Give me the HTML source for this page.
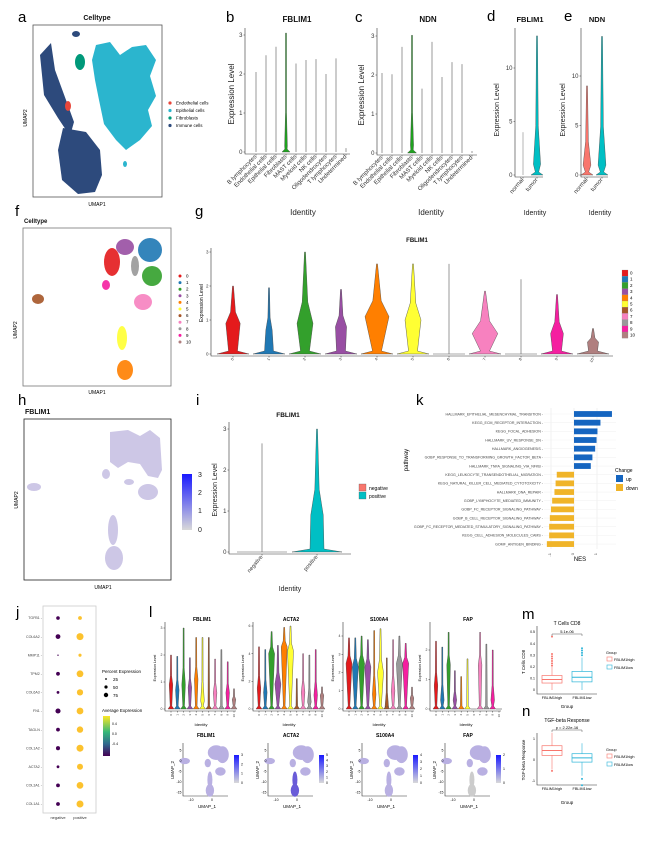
<!DOCTYPE html>
<html><head><meta charset="utf-8">
<style>
html,body{margin:0;padding:0;background:#fff;}
svg{display:block;font-family:"Liberation Sans",sans-serif;}
.pl{font-size:15px;fill:#000;}
.tt{font-weight:bold;fill:#111;}
.ax{stroke:#333;stroke-width:0.6;fill:none;}
.tk{font-size:5px;fill:#333;}
</style></head>
<body>
<svg id="fig" width="654" height="853" viewBox="0 0 654 853">
<rect width="654" height="853" fill="#fff"/>
<g>
<text class="pl" x="18" y="22">a</text>
<text class="pl" x="226" y="22">b</text>
<text class="pl" x="355" y="22">c</text>
<text class="pl" x="487" y="21">d</text>
<text class="pl" x="564" y="21">e</text>
<text class="pl" x="15" y="216">f</text>
<text class="pl" x="195" y="216">g</text>
<text class="pl" x="18" y="405">h</text>
<text class="pl" x="196" y="405">i</text>
<text class="pl" x="416" y="405">k</text>
<text class="pl" x="16" y="617">j</text>
<text class="pl" x="149" y="617">l</text>
<text class="pl" x="522" y="619">m</text>
<text class="pl" x="522" y="716">n</text>
</g>
<g>
<text class="tt" x="97" y="20" font-size="7" text-anchor="middle">Celltype</text>
<rect x="33" y="25" width="129" height="172" fill="none" stroke="#555" stroke-width="0.8"/>
<path d="M40,55 L51,43 L55,70 L66,100 L74,122 L70,136 L58,118 L44,95 Z" fill="#2D4A7C"/>
<path d="M63,128 L86,132 L100,150 L102,175 L95,192 L78,194 L62,180 L58,150 Z" fill="#2D4A7C"/>
<ellipse cx="76" cy="34" rx="4" ry="3" fill="#2D4A7C"/>
<path d="M96,45 L110,42 L120,55 L132,47 L146,45 L156,60 L150,76 L156,96 L148,110 L152,126 L140,140 L126,150 L116,140 L104,124 L99,100 L95,80 L92,60 Z" fill="#2BB5CE"/>
<ellipse cx="125" cy="164" rx="2" ry="3" fill="#2BB5CE"/>
<ellipse cx="80" cy="62" rx="5" ry="8" fill="#00997A"/>
<ellipse cx="68" cy="106" rx="3" ry="5" fill="#E8463A"/>
<text x="27" y="118" font-size="5" transform="rotate(-90 27 118)" text-anchor="middle">UMAP2</text>
<text x="97" y="206" font-size="5" text-anchor="middle">UMAP1</text>
<g font-size="4.5">
<circle cx="170" cy="103" r="1.6" fill="#E8463A"/><text x="176" y="104.5">Endothelial cells</text>
<circle cx="170" cy="110.5" r="1.6" fill="#2BB5CE"/><text x="176" y="112">Epithelial cells</text>
<circle cx="170" cy="118" r="1.6" fill="#00997A"/><text x="176" y="119.5">Fibroblasts</text>
<circle cx="170" cy="125.5" r="1.6" fill="#2D4A7C"/><text x="176" y="127">Immune cells</text>
</g>
</g>
<text class="tt" x="297" y="22" font-size="8" text-anchor="middle">FBLIM1</text>
<text class="tt" x="428" y="22" font-size="8" text-anchor="middle">NDN</text>
<text class="tt" x="530" y="22" font-size="7.5" text-anchor="middle">FBLIM1</text>
<text class="tt" x="597" y="22" font-size="7.5" text-anchor="middle">NDN</text>
<text x="234" y="94" font-size="8" transform="rotate(-90 234 94)" text-anchor="middle" fill="#222">Expression Level</text>
<text x="364" y="95" font-size="8" transform="rotate(-90 364 95)" text-anchor="middle" fill="#222">Expression Level</text>
<text x="499" y="110" font-size="7" transform="rotate(-90 499 110)" text-anchor="middle" fill="#222">Expression Level</text>
<text x="565" y="110" font-size="7" transform="rotate(-90 565 110)" text-anchor="middle" fill="#222">Expression Level</text>
<text x="303" y="215" font-size="8" text-anchor="middle" fill="#222">Identity</text>
<text x="431" y="215" font-size="8" text-anchor="middle" fill="#222">Identity</text>
<text x="535" y="215" font-size="7" text-anchor="middle" fill="#222">Identity</text>
<text x="600" y="215" font-size="7" text-anchor="middle" fill="#222">Identity</text>
<g>
<text class="tt" x="24" y="223" font-size="6">Celltype</text>
<rect x="23" y="228" width="148" height="158" fill="none" stroke="#777" stroke-width="0.8"/>
<g opacity="0.9">
<ellipse cx="112" cy="262" rx="8" ry="14" fill="#E41A1C"/>
<ellipse cx="125" cy="247" rx="9" ry="8" fill="#984EA3"/>
<ellipse cx="150" cy="250" rx="12" ry="12" fill="#1F78B4"/>
<ellipse cx="152" cy="276" rx="10" ry="10" fill="#33A02C"/>
<ellipse cx="135" cy="266" rx="4" ry="10" fill="#999"/>
<ellipse cx="143" cy="302" rx="9" ry="8" fill="#F781BF"/>
<ellipse cx="106" cy="285" rx="4" ry="5" fill="#F51FA0"/>
<ellipse cx="38" cy="299" rx="6" ry="5" fill="#A65628"/>
<ellipse cx="122" cy="338" rx="5" ry="12" fill="#FFFF33"/>
<ellipse cx="125" cy="370" rx="8" ry="10" fill="#FF7F00"/>
</g>
<text x="17" y="330" font-size="5" transform="rotate(-90 17 330)" text-anchor="middle">UMAP2</text>
<text x="97" y="394" font-size="5" text-anchor="middle">UMAP1</text>
<g id="fLegend" font-size="4.5"></g>
</g>
<text class="tt" x="417" y="242" font-size="6" text-anchor="middle">FBLIM1</text>
<text x="203" y="303" font-size="5" transform="rotate(-90 203 303)" text-anchor="middle">Expression Level</text>
<g id="gLegend" font-size="4.5"></g>
<g>
<text class="tt" x="25" y="414" font-size="7">FBLIM1</text>
<rect x="24" y="419" width="147" height="161" fill="none" stroke="#222" stroke-width="0.8"/>
<g fill="#cdc7e6">
<path d="M110,432 L128,430 L140,436 L150,430 L160,438 L162,470 L158,478 L148,476 L140,464 L128,462 L118,468 L110,462 Z"/>
<ellipse cx="34" cy="487" rx="7" ry="4"/>
<ellipse cx="106" cy="474" rx="4" ry="5"/>
<ellipse cx="148" cy="492" rx="10" ry="8"/>
<ellipse cx="129" cy="482" rx="5" ry="3"/>
<ellipse cx="113" cy="530" rx="5" ry="15"/>
<ellipse cx="114" cy="558" rx="9" ry="12"/>
</g>
<defs><linearGradient id="hGrad" x1="0" y1="1" x2="0" y2="0"><stop offset="0" stop-color="#d9d9d9"/><stop offset="1" stop-color="#1a1aff"/></linearGradient></defs>
<rect x="182" y="474" width="10" height="56" fill="url(#hGrad)"/>
<g font-size="7" fill="#222"><text x="198" y="477">3</text><text x="198" y="495">2</text><text x="198" y="513">1</text><text x="198" y="532">0</text></g>
<text x="18" y="500" font-size="5" transform="rotate(-90 18 500)" text-anchor="middle">UMAP2</text>
<text x="103" y="589" font-size="5" text-anchor="middle">UMAP1</text>
</g>
<text class="tt" x="288" y="417" font-size="6.5" text-anchor="middle">FBLIM1</text>
<text x="217" y="490" font-size="7" transform="rotate(-90 217 490)" text-anchor="middle" fill="#222">Expression Level</text>
<text x="290" y="591" font-size="7" text-anchor="middle" fill="#222">Identity</text>
<g font-size="5">
<rect x="359" y="484" width="7" height="7" fill="#F8766D" stroke="#555" stroke-width="0.3"/><text x="369" y="490">negative</text>
<rect x="359" y="492" width="7" height="7" fill="#00BFC4" stroke="#555" stroke-width="0.3"/><text x="369" y="498">positive</text>
</g>
<g id="kPanel">
<text x="408" y="460" font-size="6" transform="rotate(-90 408 460)" text-anchor="middle">pathway</text>
<text x="580" y="561" font-size="6" text-anchor="middle">NES</text>
<g font-size="5">
<text x="615" y="472">Change</text>
<rect x="616" y="475" width="7" height="7" fill="#1565C0"/><text x="626" y="481">up</text>
<rect x="616" y="484" width="7" height="7" fill="#F0B429"/><text x="626" y="490">down</text>
</g>
</g>
<g id="jPanel">
<rect x="43" y="606" width="53" height="207" fill="none" stroke="#ccc" stroke-width="0.8"/>
<g font-size="4" fill="#333"><text x="58" y="819" text-anchor="middle">negative</text><text x="80" y="819" text-anchor="middle">positive</text></g>
<g font-size="4.5">
<text x="102" y="673">Percent Expression</text>
<circle cx="106" cy="679" r="0.9"/><text x="113" y="681">25</text>
<circle cx="106" cy="687" r="1.6"/><text x="113" y="689">50</text>
<circle cx="106" cy="695" r="2.2"/><text x="113" y="697">75</text>
<text x="102" y="712">Average Expression</text>
<defs><linearGradient id="vir" x1="0" y1="1" x2="0" y2="0"><stop offset="0" stop-color="#440154"/><stop offset="0.3" stop-color="#31688e"/><stop offset="0.6" stop-color="#35b779"/><stop offset="1" stop-color="#fde725"/></linearGradient></defs>
<rect x="103" y="716" width="7" height="40" fill="url(#vir)"/>
<text x="112" y="725" font-size="3.5">0.4</text><text x="112" y="735" font-size="3.5">0.0</text><text x="112" y="745" font-size="3.5">-0.4</text>
</g>
</g>
<g id="lPanel"></g>
<g id="mPanel">
<text x="567" y="625" font-size="5" text-anchor="middle">T Cells CD8</text>
<text x="525" y="662" font-size="4.5" transform="rotate(-90 525 662)" text-anchor="middle">T Cells CD8</text>
<text x="567" y="708" font-size="4.5" text-anchor="middle">Group</text>
</g>
<g id="nPanel">
<text x="567" y="722" font-size="5" text-anchor="middle">TGF-beta Response</text>
<text x="525" y="760" font-size="4.5" transform="rotate(-90 525 760)" text-anchor="middle">TGF-beta Response</text>
<text x="567" y="804" font-size="4.5" text-anchor="middle">Group</text>
</g>
<g font-size="3.8">
<text x="606" y="654">Group</text>
<rect x="607" y="657" width="5" height="4" fill="none" stroke="#F8766D" stroke-width="0.6"/><text x="614" y="661">FBLIM1high</text>
<rect x="607" y="665" width="5" height="4" fill="none" stroke="#2DB5D8" stroke-width="0.6"/><text x="614" y="669">FBLIM1low</text>
<text x="606" y="751">Group</text>
<rect x="607" y="754" width="5" height="4" fill="none" stroke="#F8766D" stroke-width="0.6"/><text x="614" y="758">FBLIM1high</text>
<rect x="607" y="762" width="5" height="4" fill="none" stroke="#2DB5D8" stroke-width="0.6"/><text x="614" y="766">FBLIM1low</text>
</g>
</svg>
<script>
const bCats=['B lymphocytes','Endothelial cells','Epithelial cells','Fibroblasts','MAST cells','Myeloid cells','NK cells','Oligodendrocytes','T lymphocytes','Undetermined'];
const bMax=[2.05,2.48,2.7,3.05,2.27,2.36,2.38,2.0,2.4,0.1];
const bBody=[0,0,0,0.15,0,0,0,0,0,0];
const cMax=[2.05,2.02,2.72,3.02,1.65,2.85,1.95,2.33,2.28,0.05];
const cBody=[0,0,0,0.2,0,0,0,0,0,0];
const dGroups=['normal','tumor'];
const dMax=[4,13];
const dBody=[0,1];
const eMax=[9,14];
const eBody=[1,1];
const gClusters=['0','1','2','3','4','5','6','7','8','9','10'];
const gMax=[2.0,1.95,3.0,1.9,2.65,2.65,2.65,1.85,2.2,1.75,0.75];
const gBody=[0.9,0.7,0.9,0.8,1.1,1.0,0,0.6,0,0.6,0.35];
const gBodyW=[0.45,0.2,0.5,0.35,0.75,0.5,0,0.8,0,0.4,0.35];
const iGroups=['negative','positive'];
const iMax=[2.65,3.0];
const iBody=[0,0.9];
const lGenes=['FBLIM1','ACTA2','S100A4','FAP'];
const lMaxFBLIM1=[2.0,1.95,3.0,1.9,2.65,2.65,2.65,1.85,2.2,1.75,0.75];
const lBodyFBLIM1=[0.9,0.7,0.9,0.8,1.1,0.3,0,0.6,0,0.6,0.35];
const lMaxACTA2=[4.5,4.3,5.6,4.6,5.9,6.0,2.2,4.0,3.9,4.3,1.6];
const lBodyACTA2=[1.5,1.2,4.0,1.8,4.5,4.2,0,1.2,0.5,1.0,1.0];
const lMaxS100A4=[3.9,3.9,4.0,3.8,4.3,4.4,2.8,3.8,4.0,3.6,1.2];
const lBodyS100A4=[2.5,2.3,2.5,2.3,0.8,2.0,0.1,1.0,2.5,2.5,0.6];
const lMaxFAP=[2.3,2.1,2.6,1.3,1.1,1.7,0,2.6,2.2,2.0,0];
const lBodyFAP=[0.8,0.3,1.5,0.3,0,0,0,1.5,0,0.3,0];
const kPathways=['HALLMARK_EPITHELIAL_MESENCHYMAL_TRANSITION','KEGG_ECM_RECEPTOR_INTERACTION','KEGG_FOCAL_ADHESION','HALLMARK_UV_RESPONSE_DN','HALLMARK_ANGIOGENESIS','GOBP_RESPONSE_TO_TRANSFORMING_GROWTH_FACTOR_BETA','HALLMARK_TNFA_SIGNALING_VIA_NFKB','KEGG_LEUKOCYTE_TRANSENDOTHELIAL_MIGRATION','KEGG_NATURAL_KILLER_CELL_MEDIATED_CYTOTOXICITY','HALLMARK_DNA_REPAIR','GOBP_LYMPHOCYTE_MEDIATED_IMMUNITY','GOBP_FC_RECEPTOR_SIGNALING_PATHWAY','GOBP_B_CELL_RECEPTOR_SIGNALING_PATHWAY','GOBP_FC_RECEPTOR_MEDIATED_STIMULATORY_SIGNALING_PATHWAY','KEGG_CELL_ADHESION_MOLECULES_CAMS','GOMF_ANTIGEN_BINDING'];
const kNES=[1.65,1.15,1.02,0.98,0.92,0.8,0.73,-0.75,-0.8,-0.85,-0.95,-1.0,-1.05,-1.08,-1.08,-1.18];
const jGenes=['TGFB1','COL6A2','MMP11','TPM2','COL6A3','FN1','TAGLN','COL1A2','ACTA2','COL3A1','COL1A1'];
const jPctNeg=[20,35,3,22,12,40,22,25,12,22,22];
const jPctPos=[22,75,15,70,60,70,62,75,55,70,75];
const jAvgNeg=[-0.45,-0.45,-0.4,-0.45,-0.45,-0.45,-0.45,-0.45,-0.45,-0.45,-0.45];
const jAvgPos=[0.5,0.5,0.5,0.5,0.5,0.5,0.5,0.5,0.5,0.5,0.5];
const boxGroups=['FBLIM1high','FBLIM1low'];
const mStats=[[0,0.06,0.09,0.125,0.2],[0,0.07,0.11,0.16,0.28]];
const mOutHigh=[0.21,0.23,0.25,0.27,0.29,0.31,0.46];
const mOutLow=[0.3,0.32,0.34,0.36];
const nStats=[[-0.45,0.22,0.45,0.68,1.3],[-0.75,-0.1,0.1,0.3,0.8]];
const nOutHigh=[-0.52];
const nOutLow=[-0.9,-1.2];
const clusterColors=['#E41A1C','#1F78B4','#33A02C','#984EA3','#FF7F00','#FFFF33','#A65628','#F781BF','#999999','#F51FA0','#B07F7F'];

const NS='http://www.w3.org/2000/svg';
const svg=document.getElementById('fig');
function mk(tag,attrs,parent){const e=document.createElementNS(NS,tag);for(const k in attrs)e.setAttribute(k,attrs[k]);(parent||svg).appendChild(e);return e;}
function txt(s,attrs,parent){const e=mk('text',attrs,parent);e.textContent=s;return e;}

function violinPath(cx,y0,yTop,yBody,hw,bw){
  if(hw<=0){return `M${cx},${y0} L${cx},${yTop}`;}
  const neck=Math.max(0.5,hw*0.28);
  const yn=y0-Math.min(3,(y0-yTop)*0.15);
  const pts=[[hw,y0],[neck,yn]];
  if(bw>0){pts.push([bw,yBody]);pts.push([Math.max(0.5,bw*0.35),yBody-(yBody-yTop)*0.3]);}
  pts.push([0.5,yTop]);
  let d=`M${cx-pts[0][0]},${pts[0][1]}`;
  for(let i=1;i<pts.length;i++)d+=` L${cx-pts[i][0]},${pts[i][1]}`;
  for(let i=pts.length-1;i>=0;i--)d+=` L${cx+pts[i][0]},${pts[i][1]}`;
  return d+' Z';
}

function violinPanel(o){
  const g=mk('g',{});
  
  
  const yS=v=>o.y0-(v/o.vmax)*(o.y0-o.yTop);
  const xS=i=>o.firstX+i*o.step;
  const ax=mk('path',{d:`M${o.axX},${o.axTop} L${o.axX},${o.y0+2} L${o.axEnd},${o.y0+2}`,class:'ax'},g);
  
  
  o.ticks.forEach(t=>{
    const y=yS(t);
    const tl=mk('line',{x1:o.axX-1.5,x2:o.axX,y1:y,y2:y,stroke:'#333','stroke-width':0.5},g);
    
    
    const tx=txt(String(t),{x:o.axX-2.5,y:y+o.tfs*0.35,'font-size':o.tfs,'text-anchor':'end',fill:'#333'},g);
    
    
  });
  o.max.forEach((m,i)=>{
    const cx=xS(i);
    const col=o.colors[i%o.colors.length];
    if(o.flat&&o.flat[i]){
      const fl=mk('path',{d:`M${cx-o.hw},${o.y0} L${cx+o.hw},${o.y0} M${cx},${o.y0} L${cx},${yS(m)}`,stroke:'#555','stroke-width':0.6,fill:'none'},g);
      
      
    } else {
      const body=o.body[i];
      const hw=o.hwArr?o.hwArr[i]:o.hw;
      const bw=body>0?(o.bw?o.bw[i]*hw:Math.max(1,hw*0.35)):0;
      const p=mk('path',{d:violinPath(cx,o.y0,yS(m),yS(body),hw,bw),fill:hw>0?col:'none',stroke:'#444','stroke-width':0.4,'stroke-linejoin':'round'},g);
      
      
    }
    const xl=mk('line',{x1:cx,x2:cx,y1:o.y0+2,y2:o.y0+3.5,stroke:'#333','stroke-width':0.5},g);
    
    
    if(o.showX!==false){
      const lx=txt(o.cats[i],{x:cx+1,y:o.y0+5,'font-size':o.xfs,'text-anchor':'end',fill:'#333',transform:`rotate(${o.rot} ${cx+1} ${o.y0+5})`},g);
      
      
    }
  });
  return g;
}

const bHw=bBody.map(v=>v>0?4:0);
violinPanel({name:'panel-b-violin',cats:bCats,max:bMax,body:bBody,hwArr:bHw,hw:0,colors:['#1FA21F'],vmax:3,y0:152,yTop:35,axX:245,axTop:28,axEnd:350,firstX:256,step:10,ticks:[0,1,2,3],tfs:6,xfs:6,rot:-45,flat:bMax.map((v,i)=>bBody[i]===0)});
violinPanel({name:'panel-c-violin',cats:bCats,max:cMax,body:cBody,hwArr:cBody.map(v=>v>0?4.5:0),hw:0,colors:['#1FA21F'],vmax:3,y0:153,yTop:36,axX:377,axTop:28,axEnd:477,firstX:382,step:10,ticks:[0,1,2,3],tfs:6,xfs:6,rot:-45,flat:cMax.map((v,i)=>cBody[i]===0)});
violinPanel({name:'panel-d-violin',cats:dGroups,max:dMax,body:dBody,hwArr:[0,6],hw:6,bw:[0,0.6],colors:['#F8766D','#00BFC4'],vmax:10,y0:175,yTop:68,axX:515,axTop:28,axEnd:543,firstX:523,step:14,ticks:[0,5,10],tfs:6,xfs:6,rot:-50});
violinPanel({name:'panel-e-violin',cats:dGroups,max:eMax,body:eBody,hwArr:[6,6],hw:6,bw:[0.65,0.65],colors:['#F8766D','#00BFC4'],vmax:10,y0:175,yTop:76,axX:581,axTop:28,axEnd:608,firstX:587,step:15,ticks:[0,5,10],tfs:6,xfs:6,rot:-50});
violinPanel({name:'panel-g-violin',cats:gClusters,max:gMax,body:gBody,hw:16,bw:gBodyW,colors:clusterColors,vmax:3,y0:354,yTop:252,axX:211,axTop:248,axEnd:613,firstX:233,step:36,ticks:[0,1,2,3],tfs:4.5,xfs:4,rot:-60,flat:gMax.map((v,i)=>gBodyW[i]===0)});
violinPanel({name:'panel-i-violin',cats:iGroups,max:iMax,body:iBody,hwArr:[0,25],hw:25,bw:[0,0.25],colors:['#F8766D','#00BFC4'],vmax:3,y0:552,yTop:429,axX:229,axTop:422,axEnd:351,firstX:262,step:55,ticks:[0,1,2,3],tfs:6,xfs:5.5,rot:-50,flat:[true,false]});

const fL=document.getElementById('fLegend');
const gL=document.getElementById('gLegend');
gClusters.forEach((c,i)=>{
  const y=276+i*6.6;
  const d=mk('circle',{cx:180,cy:y,r:1.5,fill:clusterColors[i]},fL);
  
  
  const t=txt(c,{x:186,y:y+1.5},fL);
  
  
  const yy=270+i*6.2;
  const r=mk('rect',{x:622,y:yy,width:6,height:6.2,fill:clusterColors[i],stroke:'#888','stroke-width':0.2},gL);
  
  
  const t2=txt(c,{x:630,y:yy+4.5},gL);
  
  
});

const kP=document.getElementById('kPanel');
const kX=v=>574+v*23;
const kY=i=>414+i*8.67;
[-1,0,1].forEach(v=>{
  const gl=mk('line',{x1:kX(v),x2:kX(v),y1:408,y2:549,stroke:'#eee','stroke-width':0.8},kP);
  
  
  const t=txt(String(v),{x:kX(v),y:553,'font-size':4,'text-anchor':'end',fill:'#555',transform:`rotate(-90 ${kX(v)} 553)`},kP);
  
  
});
kPathways.forEach((p,i)=>{
  const v=kNES[i];
  const y=kY(i);
  const hl=mk('line',{x1:544,x2:616,y1:y,y2:y,stroke:'#f2f2f2','stroke-width':0.6},kP);
  
  
  const b=mk('rect',{x:Math.min(kX(0),kX(v)),y:y-2.9,width:Math.abs(kX(v)-kX(0)),height:5.8,fill:v>0?'#1565C0':'#F0B429'},kP);
  
  
  const t=txt(p+' -',{x:543,y:y+1.3,'font-size':3.6,'text-anchor':'end',fill:'#444'},kP);
  
  
});

const jP=document.getElementById('jPanel');
const vir=['#440154','#3b528b','#21918c','#5ec962','#fde725'];
function virCol(v){const t=Math.max(0,Math.min(1,(v+0.5)/1.0));const idx=Math.min(3,Math.floor(t*4));return vir[idx+(t*4-idx>0.5?1:0)];}
const jY=i=>618+i*18.6;
const jR=p=>Math.sqrt(p/75)*3.5;
jGenes.forEach((gname,i)=>{
  const y=jY(i);
  const t=txt(gname+' -',{x:42,y:y+1.2,'font-size':3.6,'text-anchor':'end',fill:'#444'},jP);
  
  
  const d1=mk('circle',{cx:58,cy:y,r:Math.max(0.3,jR(jPctNeg[i])),fill:virCol(jAvgNeg[i])},jP);
  
  
  const d2=mk('circle',{cx:80,cy:y,r:jR(jPctPos[i]),fill:'#FCC22E'},jP);
  
  
});

const lP=document.getElementById('lPanel');
const lCfg=[
 {max:lMaxFBLIM1,body:lBodyFBLIM1,ax:165,vmax:3,top:628,ticks:[0,1,2,3],tx:202},
 {max:lMaxACTA2,body:lBodyACTA2,ax:253,vmax:6,top:626,ticks:[0,2,4,6],tx:291},
 {max:lMaxS100A4,body:lBodyS100A4,ax:343,vmax:4,top:636,ticks:[0,1,2,3,4],tx:379},
 {max:lMaxFAP,body:lBodyFAP,ax:430,vmax:2,top:650,ticks:[0,1,2],tx:468}];
lCfg.forEach((c,k)=>{
  const t=txt(lGenes[k],{x:c.tx,y:621,'font-size':5,'font-weight':'bold','text-anchor':'middle'},lP);
  
  
  const g=violinPanel({name:'l-violin-'+lGenes[k].toLowerCase(),cats:gClusters,max:c.max,body:c.body,hw:3,bw:c.body.map(v=>v>1.5?1.0:0.6),colors:clusterColors,vmax:c.vmax,y0:709,yTop:c.top,axX:c.ax,axTop:622,axEnd:c.ax+71,firstX:c.ax+6,step:6.3,ticks:c.ticks,tfs:3.5,xfs:3,rot:-90,flat:c.max.map(v=>v===0)});
  lP.appendChild(g);
  const yt=txt('Expression Level',{x:c.ax-9,y:668,'font-size':3.5,'text-anchor':'middle',transform:`rotate(-90 ${c.ax-9} 668)`},lP);
  
  
  const xt=txt('Identity',{x:c.ax+36,y:726,'font-size':4,'text-anchor':'middle'},lP);
  
  
});
const miniAx=[183,268,362,445];
const miniMax=[3,5,4,2];
const miniBlobs=[[-13,0,2.5,1.5],[2,4,4,3.5],[5,3,3,4],[-2,-1,1.5,2],[4,-5,2.5,2],[-1,-9,1.2,4],[-1,-14,2,3]];
miniAx.forEach((ax,k)=>{
  const ux=v=>ax+29+v*2.1;
  const uy=v=>761-v*2.1;
  const t=txt(lGenes[k],{x:ax+23,y:737,'font-size':5,'font-weight':'bold','text-anchor':'middle'},lP);
  
  
  const a=mk('path',{d:`M${ax},743 L${ax},796 L${ax+45},796`,class:'ax'},lP);
  
  
  miniBlobs.forEach((b,j)=>{
    const e=mk('ellipse',{cx:ux(b[0]),cy:uy(b[1]),rx:b[2]*2.1,ry:b[3]*2.1,fill:(k===3&&j>=5)?'#cccccc':(k===1&&j>=5?'#6a5cd8':'#b9b0e2')},lP);
    
    
  });
  [5,0,-5,-10,-15].forEach(v=>{
    const tt=txt(String(v),{x:ax-1.5,y:uy(v)+1.2,'font-size':3.5,'text-anchor':'end'},lP);
    
    
  });
  [-10,0].forEach(v=>{
    const tt=txt(String(v),{x:ux(v),y:801,'font-size':3.5,'text-anchor':'middle'},lP);
    
    
  });
  const x1=txt('UMAP_1',{x:ax+24,y:808,'font-size':4.5,'text-anchor':'middle'},lP);
  
  
  const y1=txt('UMAP_2',{x:ax-9,y:770,'font-size':4.5,'text-anchor':'middle',transform:`rotate(-90 ${ax-9} 770)`},lP);
  
  
  const cb=mk('rect',{x:ax+51,y:755,width:5,height:28,fill:'url(#hGrad)'},lP);
  
  
  for(let v=0;v<=miniMax[k];v++){
    const ct=txt(String(v),{x:ax+58,y:783-v*28/miniMax[k]+1,'font-size':3.5},lP);
    
    
  }
});

function boxPanel(pid,stats,outs,y0,ppu,ticks,sig,sigY,nm){
  const P=document.getElementById(pid);
  const yS=v=>y0-v*ppu;
  const xs=[552,582];
  const top=Math.min(...ticks.map(yS))-6, bot=Math.max(...ticks.map(yS))+4;
  const a=mk('path',{d:`M537,${top} L537,${bot} L597,${bot}`,class:'ax'},P);
  
  
  ticks.forEach(t=>{
    const tl=txt(String(t),{x:535,y:yS(t)+1.2,'font-size':3.5,'text-anchor':'end'},P);
    
    
  });
  const cols=['#F8766D','#2DB5D8'];
  stats.forEach((s,i)=>{
    const x=xs[i];
    const w=mk('line',{x1:x,x2:x,y1:yS(s[0]),y2:yS(s[4]),stroke:cols[i],'stroke-width':0.6},P);
    
    
    const r=mk('rect',{x:x-10,y:yS(s[3]),width:20,height:yS(s[1])-yS(s[3]),fill:'#fff',stroke:cols[i],'stroke-width':0.7},P);
    
    
    const md=mk('line',{x1:x-10,x2:x+10,y1:yS(s[2]),y2:yS(s[2]),stroke:cols[i],'stroke-width':1},P);
    
    
    outs[i].forEach(o=>{
      const c=mk('circle',{cx:x,cy:yS(o),r:1,fill:cols[i]},P);
      
      
    });
    const xl=txt(boxGroups[i],{x:x,y:bot+5,'font-size':3.8,'text-anchor':'middle'},P);
    
    
  });
  const br=mk('path',{d:`M${xs[0]},${sigY+2} L${xs[0]},${sigY} L${xs[1]},${sigY} L${xs[1]},${sigY+2}`,stroke:'#333','stroke-width':0.4,fill:'none'},P);
  
  
  const st=txt(sig,{x:567,y:sigY-1,'font-size':4,'text-anchor':'middle'},P);
  
  
}
boxPanel('mPanel',mStats,[mOutHigh,mOutLow],690,116,[0,0.1,0.2,0.3,0.4,0.5],'5.1e-06',634,'m');
boxPanel('nPanel',nStats,[nOutHigh,nOutLow],760,21,[-1,0,1],'p = 2.22e-16',730,'n');
</script>
</body></html>
